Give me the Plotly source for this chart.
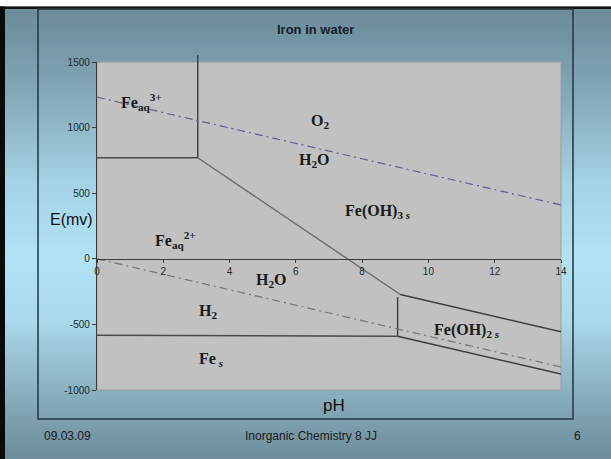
import plotly.graph_objects as go

# ---------------- data ----------------
# boundary lines of the Pourbaix diagram (pH, E in mV)
fe3_fe2_ph = [0, 3.04]
fe3_fe2_E = [770, 770]
fe3_feoh3_ph = [3.04, 3.04]
fe3_feoh3_E = [770, 1500]
fe2_feoh3_ph = [3.04, 9.15]
fe2_feoh3_E = [770, -272]
feoh2_feoh3_ph = [9.15, 14]
feoh2_feoh3_E = [-272, -556]
fe2_feoh2_ph = [9.07, 9.07]
fe2_feoh2_E = [-292, -590]
fe2_fe_ph = [0, 9.07]
fe2_fe_E = [-583, -590]
feoh2_fe_ph = [9.07, 14]
feoh2_fe_E = [-590, -878]
o2_h2o_ph = [0, 14]
o2_h2o_E = [1232, 410]
h2o_h2_ph = [0, 14]
h2o_h2_E = [0, -825]

region_labels = ["Fe<sub>aq</sub><sup>3+</sup>", "O<sub>2</sub>", "H<sub>2</sub>O",
                 "Fe(OH)<sub>3 <i>s</i></sub>", "Fe<sub>aq</sub><sup>2+</sup>", "H<sub>2</sub>O",
                 "H<sub>2</sub>", "Fe<sub> <i>s</i></sub>", "Fe(OH)<sub>2 <i>s</i></sub>"]
region_ph = [1.33, 6.73, 6.55, 8.48, 2.36, 5.25, 3.35, 3.44, 11.17]
region_E = [1194, 1050, 752, 364, 143, -162, -399, -764, -543]

x_ticks = [0, 2, 4, 6, 8, 10, 12, 14]
y_ticks = [-1000, -500, 0, 500, 1000, 1500]

title_text = "Iron in water"
footer_left = "09.03.09"
footer_mid = "Inorganic Chemistry 8 JJ"
footer_right = "6"

# ---------------- layout helpers ----------------
W, H = 611, 459
L, R, T, B = 97, 561, 62, 390  # plot area in pixels
PW, PH = R - L, B - T


def px(x):
    return (x - L) / PW


def py(y):
    return (B - y) / PH


def hex2rgb(h):
    h = h.lstrip('#')
    return tuple(int(h[i:i + 2], 16) for i in (0, 2, 4))


grad_stops = [(0, "#6b8a98"), (40, "#7394a3"), (100, "#86abbb"), (180, "#a2d2e3"),
              (260, "#b2e3f4"), (320, "#a9d9ea"), (380, "#8fb7c7"), (420, "#7d9fae"),
              (459, "#6d8d9b")]


def grad_color(y):
    for (y0, c0), (y1, c1) in zip(grad_stops[:-1], grad_stops[1:]):
        if y0 <= y <= y1:
            t = (y - y0) / (y1 - y0)
            a, b = hex2rgb(c0), hex2rgb(c1)
            return "rgb(%d,%d,%d)" % tuple(round(a[i] + (b[i] - a[i]) * t) for i in range(3))
    return grad_stops[-1][1]


shapes = []
step = 3
for yy in range(0, H, step):
    shapes.append(dict(type="rect", xref="paper", yref="paper", layer="below",
                       x0=px(0), x1=px(W), y0=py(yy + step + 0.5), y1=py(yy),
                       fillcolor=grad_color(yy + step / 2), line=dict(width=0)))
# white strip on top, black frame
shapes.append(dict(type="rect", xref="paper", yref="paper", layer="below",
                   x0=px(0), x1=px(W), y0=py(6.5), y1=py(0), fillcolor="white", line=dict(width=0)))
shapes.append(dict(type="rect", xref="paper", yref="paper", layer="below",
                   x0=px(0), x1=px(W), y0=py(9), y1=py(6.5), fillcolor="#111111", line=dict(width=0)))
shapes.append(dict(type="rect", xref="paper", yref="paper", layer="below",
                   x0=px(0), x1=px(5), y0=py(H), y1=py(6.5), fillcolor="#0a0a0a", line=dict(width=0)))
# chart frame
shapes.append(dict(type="rect", xref="paper", yref="paper", layer="below",
                   x0=px(38), x1=px(573), y0=py(419), y1=py(9),
                   fillcolor="rgba(0,0,0,0)", line=dict(color="#23343f", width=1.5)))
# plot area
shapes.append(dict(type="rect", xref="paper", yref="paper", layer="below",
                   x0=0, x1=1, y0=0, y1=1, fillcolor="#c1c1c1",
                   line=dict(color="#9c9c9c", width=1)))
# small overshoot of the Fe3+/Fe(OH)3 boundary above the plot area
shapes.append(dict(type="line", xref="x", yref="paper",
                   x0=fe3_feoh3_ph[0], x1=fe3_feoh3_ph[1], y0=1.0, y1=py(55),
                   line=dict(color="#3a3a3a", width=1.3)))

fig = go.Figure()

solid = [(fe3_fe2_ph, fe3_fe2_E, "#4a4a4a"),
         (fe3_feoh3_ph, fe3_feoh3_E, "#3a3a3a"),
         (fe2_feoh3_ph, fe2_feoh3_E, "#6c6c6c"),
         (feoh2_feoh3_ph, feoh2_feoh3_E, "#3e3e3e"),
         (fe2_feoh2_ph, fe2_feoh2_E, "#3a3a3a"),
         (fe2_fe_ph, fe2_fe_E, "#4a4a4a"),
         (feoh2_fe_ph, feoh2_fe_E, "#3e3e3e")]
for xs, ys, col in solid:
    fig.add_trace(go.Scatter(x=xs, y=ys, mode="lines", line=dict(color=col, width=1.4),
                             hoverinfo="skip", showlegend=False))

fig.add_trace(go.Scatter(x=o2_h2o_ph, y=o2_h2o_E, mode="lines",
                         line=dict(color="#5e5e9c", width=1.2, dash="8px,4px,2px,4px"),
                         hoverinfo="skip", showlegend=False))
fig.add_trace(go.Scatter(x=h2o_h2_ph, y=h2o_h2_E, mode="lines",
                         line=dict(color="#76766a", width=1.2, dash="8px,4px,2px,4px"),
                         hoverinfo="skip", showlegend=False))

annotations = []
for txt, xv, yv in zip(region_labels, region_ph, region_E):
    annotations.append(dict(x=xv, y=yv, xref="x", yref="y", text="<b>" + txt + "</b>",
                            showarrow=False, xanchor="center", yanchor="middle",
                            font=dict(family="Liberation Serif, Times New Roman, serif",
                                      size=16, color="#1a1a1a")))

sans = "Liberation Sans, Arial, sans-serif"
annotations.append(dict(x=px(315), y=py(29), xref="paper", yref="paper",
                        text="<b>" + title_text + "</b>", showarrow=False,
                        xanchor="center", yanchor="middle",
                        font=dict(family=sans, size=13, color="#15202a")))
annotations.append(dict(x=px(71), y=py(219), xref="paper", yref="paper", text="E(mv)",
                        showarrow=False, xanchor="center", yanchor="middle",
                        font=dict(family=sans, size=16, color="#111111")))
annotations.append(dict(x=px(334), y=py(405), xref="paper", yref="paper", text="pH",
                        showarrow=False, xanchor="center", yanchor="middle",
                        font=dict(family=sans, size=17, color="#111111")))
annotations.append(dict(x=px(42), y=py(436), xref="paper", yref="paper", text=footer_left,
                        showarrow=False, xanchor="left", yanchor="middle",
                        font=dict(family=sans, size=12, color="#1a1a1a")))
annotations.append(dict(x=px(311), y=py(436), xref="paper", yref="paper", text=footer_mid,
                        showarrow=False, xanchor="center", yanchor="middle",
                        font=dict(family=sans, size=12, color="#1a1a1a")))
annotations.append(dict(x=px(577), y=py(436), xref="paper", yref="paper", text=footer_right,
                        showarrow=False, xanchor="center", yanchor="middle",
                        font=dict(family=sans, size=12, color="#1a1a1a")))

fig.update_layout(
    width=W, height=H,
    margin=dict(l=L, r=W - R, t=T, b=H - B, pad=0),
    paper_bgcolor="#8fb8c8",
    plot_bgcolor="rgba(0,0,0,0)",
    shapes=shapes,
    annotations=annotations,
    xaxis=dict(range=[0, 14], tickvals=x_ticks, ticktext=[str(v) for v in x_ticks],
               showgrid=False, zeroline=False, showline=True, linecolor="#3c3c3c", linewidth=1.3,
               ticks="outside", ticklen=3, tickcolor="#3c3c3c",
               anchor="free", position=1000 / 2500,
               tickfont=dict(family=sans, size=10, color="#2a2a2a")),
    yaxis=dict(range=[-1000, 1500], tickvals=y_ticks, ticktext=[str(v) for v in y_ticks],
               showgrid=False, zeroline=False, showline=True, linecolor="#3c3c3c", linewidth=1.3,
               ticks="outside", ticklen=4, tickcolor="#3c3c3c",
               tickfont=dict(family=sans, size=10, color="#1a2a30")),
)

fig.write_html("out.html", config={"displayModeBar": False},
               post_script="document.body.style.margin='0';document.body.style.overflow='hidden';")
